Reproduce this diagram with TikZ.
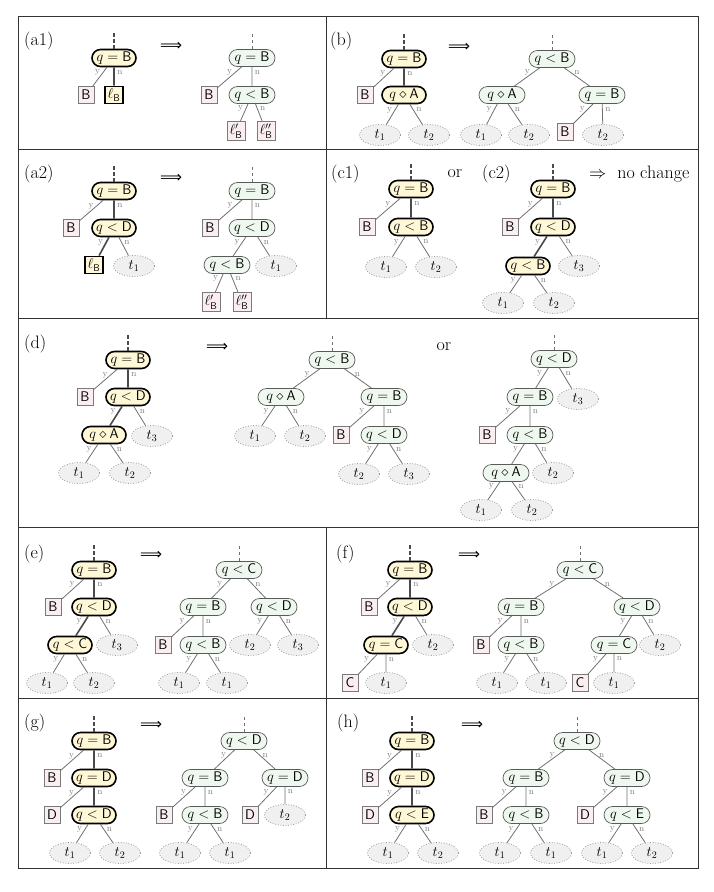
\documentclass[tikz,border=0pt]{standalone}
\usepackage{amsmath}
\usepackage{fontspec}
\newfontfamily\arrfont{DejaVu Sans}
\usetikzlibrary{shapes.misc,shapes.geometric}
\definecolor{oldfill}{HTML}{FFF8D6}
\definecolor{newfill}{HTML}{EFF8EE}
\definecolor{newdraw}{HTML}{5A5A5A}
\definecolor{leaffill}{HTML}{FBEEF0}
\definecolor{leafdraw}{HTML}{7A7A7A}
\definecolor{subfill}{HTML}{F0F0F0}
\definecolor{subdraw}{HTML}{9A9A9A}
\definecolor{edgegray}{HTML}{707070}
\definecolor{thickgray}{HTML}{4A4A4A}
\definecolor{lblgray}{HTML}{808080}
\definecolor{framecol}{HTML}{333333}
\newcommand\nodefont{\fontsize{14}{16}\selectfont}
\newcommand\lblfont{\fontsize{9}{10}\selectfont}
\newcommand\labfont{\fontsize{18}{21}\selectfont}
\newcommand\bigarrow{\resizebox{22pt}{!}{\arrfont ⟹}}
\newcommand\edgY[2]{\draw[edg] (#1) -- node[yl]{y} (#2);}
\newcommand\edgN[2]{\draw[edg] (#1) -- node[nl]{n} (#2);}
\newcommand\thkY[2]{\draw[tedg] (#1) -- node[yl]{y} (#2);}
\newcommand\thkN[2]{\draw[tedg] (#1) -- node[nl]{n} (#2);}
\newcommand\ostubat[1]{\draw[ostub] (#1.north) -- ++(0,-17);}
\newcommand\nstubat[1]{\draw[nstub] (#1.north) -- ++(0,-17);}
\tikzset{
  onode/.style={rounded rectangle, draw=black, line width=1.6pt, fill=oldfill, minimum width=46pt, minimum height=17pt, inner sep=1pt, font=\nodefont},
  nnode/.style={rounded rectangle, draw=newdraw, line width=0.7pt, fill=newfill, minimum width=48pt, minimum height=17pt, inner sep=1pt, font=\nodefont},
  lf/.style={rectangle, draw=leafdraw, line width=0.7pt, fill=leaffill, minimum width=16pt, minimum height=17pt, inner sep=2.5pt, font=\nodefont},
  olf/.style={lf, draw=black, line width=1.6pt, fill=oldfill},
  subt/.style={ellipse, draw=subdraw, dash pattern=on 0.8pt off 1.8pt, line width=0.8pt, fill=subfill, minimum width=41pt, minimum height=21pt, inner sep=0pt, font=\nodefont},
  edg/.style={draw=edgegray, line width=0.8pt},
  tedg/.style={draw=thickgray, line width=1.6pt},
  yl/.style={pos=0.28, left, inner sep=2.5pt, font=\lblfont, text=lblgray},
  nl/.style={pos=0.28, right, inner sep=2.5pt, font=\lblfont, text=lblgray},
  ostub/.style={draw=thickgray, line width=1.6pt, dash pattern=on 3.5pt off 2.5pt},
  nstub/.style={draw=edgegray, line width=0.7pt, dash pattern=on 3.5pt off 2.5pt},
  panel/.style={font=\labfont, inner sep=0pt, anchor=west},
  arr/.style={inner sep=0pt, text=black},
  frame/.style={draw=framecol, line width=1pt},
}
\begin{document}
\begin{tikzpicture}[x=1pt,y=-1pt]
\useasboundingbox (0,0) rectangle (713,892);
% frame
\draw[frame] (18,16) rectangle (698,868);
\draw[frame] (18,149) -- (698,149);
\draw[frame] (18,318) -- (698,318);
\draw[frame] (18,527) -- (698,527);
\draw[frame] (18,698) -- (698,698);
\draw[frame] (326,16) -- (326,318);
\draw[frame] (326,527) -- (326,868);

% ---------- (a1)
\node[panel] (la1) at (24,41.5) {(a1)};
\node[onode] (a1r) at (114,58) {$q=\textsf{B}$};
\node[lf] (a1B) at (86,95) {\textsf{B}};
\node[olf] (a1l) at (114,95) {$\ell_{\textsf{B}}$};
\ostubat{a1r}
\edgY{a1r}{a1B}
\thkN{a1r}{a1l}
\node[arr] (a1arr) at (171,46) {\bigarrow};
\node[nnode] (a1R) at (252,58) {$q=\textsf{B}$};
\node[lf] (a1RB) at (209,95) {\textsf{B}};
\node[nnode] (a1Rq) at (252,95) {$q<\textsf{B}$};
\node[lf] (a1l1) at (236,131) {$\ell'_{\textsf{B}}$};
\node[lf] (a1l2) at (266,131) {$\ell''_{\textsf{B}}$};
\nstubat{a1R}
\edgY{a1R}{a1RB}
\edgN{a1R}{a1Rq}
\edgY{a1Rq}{a1l1}
\edgN{a1Rq}{a1l2}

% ---------- (a2)
\node[panel] (la2) at (24,174) {(a2)};
\node[onode] (a2r) at (114,191) {$q=\textsf{B}$};
\node[lf] (a2B) at (71,228) {\textsf{B}};
\node[onode] (a2D) at (114,228) {$q<\textsf{D}$};
\node[olf] (a2l) at (94,265) {$\ell_{\textsf{B}}$};
\node[subt] (a2t1) at (134,266) {$t_1$};
\ostubat{a2r}
\edgY{a2r}{a2B}
\thkN{a2r}{a2D}
\thkY{a2D}{a2l}
\edgN{a2D}{a2t1}
\node[arr] (a2arr) at (171,178) {\bigarrow};
\node[nnode] (a2R) at (252,191) {$q=\textsf{B}$};
\node[lf] (a2RB) at (210,228) {\textsf{B}};
\node[nnode] (a2RD) at (252,228) {$q<\textsf{D}$};
\node[nnode] (a2Rq) at (227,265) {$q<\textsf{B}$};
\node[subt] (a2Rt) at (276,266) {$t_1$};
\node[lf] (a2l1) at (211,302) {$\ell'_{\textsf{B}}$};
\node[lf] (a2l2) at (242,302) {$\ell''_{\textsf{B}}$};
\nstubat{a2R}
\edgY{a2R}{a2RB}
\edgN{a2R}{a2RD}
\edgY{a2RD}{a2Rq}
\edgN{a2RD}{a2Rt}
\edgY{a2Rq}{a2l1}
\edgN{a2Rq}{a2l2}

% ---------- (b)
\node[panel] (lb) at (330,41.5) {(b)};
\node[onode] (br) at (404,59) {$q=\textsf{B}$};
\node[lf] (bB) at (365,95) {\textsf{B}};
\node[onode] (bA) at (404,95) {$q\diamond\textsf{A}$};
\node[subt] (bt1) at (380,135) {$t_1$};
\node[subt] (bt2) at (429,135) {$t_2$};
\ostubat{br}
\edgY{br}{bB}
\thkN{br}{bA}
\edgY{bA}{bt1}
\edgN{bA}{bt2}
\node[arr] (barr) at (459,47) {\bigarrow};
\node[nnode] (bR) at (552,59) {$q<\textsf{B}$};
\node[nnode] (bRA) at (502,95) {$q\diamond\textsf{A}$};
\node[nnode] (bRq) at (602,95) {$q=\textsf{B}$};
\node[subt] (bRt1) at (481,135) {$t_1$};
\node[subt] (bRt2) at (529,135) {$t_2$};
\node[lf] (bRB) at (565,132) {\textsf{B}};
\node[subt] (bRt3) at (603,135) {$t_2$};
\nstubat{bR}
\edgY{bR}{bRA}
\edgN{bR}{bRq}
\edgY{bRA}{bRt1}
\edgN{bRA}{bRt2}
\edgY{bRq}{bRB}
\edgN{bRq}{bRt3}

% ---------- (c1) (c2)
\node[panel] (lc1) at (331,174) {(c1)};
\node[onode] (c1r) at (411,189) {$q=\textsf{B}$};
\node[lf] (c1B) at (367,227) {\textsf{B}};
\node[onode] (c1q) at (411,227) {$q<\textsf{B}$};
\node[subt] (c1t1) at (386,267) {$t_1$};
\node[subt] (c1t2) at (436,267) {$t_2$};
\ostubat{c1r}
\edgY{c1r}{c1B}
\thkN{c1r}{c1q}
\edgY{c1q}{c1t1}
\edgN{c1q}{c1t2}
\node[panel, anchor=center] (lor1) at (455,174) {or};
\node[panel] (lc2) at (482,174) {(c2)};
\node[onode] (c2r) at (553,189) {$q=\textsf{B}$};
\node[lf] (c2B) at (510,227) {\textsf{B}};
\node[onode] (c2D) at (553,227) {$q<\textsf{D}$};
\node[onode] (c2q) at (528,266) {$q<\textsf{B}$};
\node[subt] (c2t3) at (579,266) {$t_3$};
\node[subt] (c2t1) at (503,303) {$t_1$};
\node[subt] (c2t2) at (554,303) {$t_2$};
\ostubat{c2r}
\edgY{c2r}{c2B}
\thkN{c2r}{c2D}
\thkY{c2D}{c2q}
\edgN{c2D}{c2t3}
\edgY{c2q}{c2t1}
\edgN{c2q}{c2t2}
\node[panel] (lnc) at (589,174) {$\Rightarrow$\ \ no change};

% ---------- (d)
\node[panel] (ld) at (24,344) {(d)};
\node[onode] (dr) at (128,360) {$q=\textsf{B}$};
\node[lf] (dB) at (85,397) {\textsf{B}};
\node[onode] (dD) at (128,397) {$q<\textsf{D}$};
\node[onode] (dA) at (104,435) {$q\diamond\textsf{A}$};
\node[subt] (dt3) at (152,436) {$t_3$};
\node[subt] (dt1) at (79,473) {$t_1$};
\node[subt] (dt2) at (130,473) {$t_2$};
\ostubat{dr}
\edgY{dr}{dB}
\thkN{dr}{dD}
\thkY{dD}{dA}
\edgN{dD}{dt3}
\edgY{dA}{dt1}
\edgN{dA}{dt2}
\node[arr] (darr) at (217,347) {\bigarrow};
\node[nnode] (dR) at (332,360) {$q<\textsf{B}$};
\node[nnode] (dRA) at (281,397) {$q\diamond\textsf{A}$};
\node[nnode] (dRq) at (384,397) {$q=\textsf{B}$};
\node[subt] (dRt1) at (255,436) {$t_1$};
\node[subt] (dRt2) at (305,436) {$t_2$};
\node[lf] (dRB) at (341,435) {\textsf{B}};
\node[nnode] (dRD) at (384,435) {$q<\textsf{D}$};
\node[subt] (dRt2b) at (359,474) {$t_2$};
\node[subt] (dRt3) at (409,474) {$t_3$};
\nstubat{dR}
\edgY{dR}{dRA}
\edgN{dR}{dRq}
\edgY{dRA}{dRt1}
\edgN{dRA}{dRt2}
\edgY{dRq}{dRB}
\edgN{dRq}{dRD}
\edgY{dRD}{dRt2b}
\edgN{dRD}{dRt3}
\node[panel, anchor=center] (lor2) at (444,347) {or};
\node[nnode] (dS) at (554,359) {$q<\textsf{D}$};
\node[nnode] (dSq) at (530,397) {$q=\textsf{B}$};
\node[subt] (dSt3) at (578,399) {$t_3$};
\node[lf] (dSB) at (487,435) {\textsf{B}};
\node[nnode] (dSb) at (530,435) {$q<\textsf{B}$};
\node[nnode] (dSA) at (506,473) {$q\diamond\textsf{A}$};
\node[subt] (dSt2) at (553,473) {$t_2$};
\node[subt] (dSt1) at (481,510) {$t_1$};
\node[subt] (dSt2b) at (532,510) {$t_2$};
\nstubat{dS}
\edgY{dS}{dSq}
\edgN{dS}{dSt3}
\edgY{dSq}{dSB}
\edgN{dSq}{dSb}
\edgY{dSb}{dSA}
\edgN{dSb}{dSt2}
\edgY{dSA}{dSt1}
\edgN{dSA}{dSt2b}

% ---------- (e)
\node[panel] (le) at (24,554) {(e)};
\node[onode] (er) at (94,570) {$q=\textsf{B}$};
\node[lf] (eB) at (53,607) {\textsf{B}};
\node[onode] (eD) at (94,607) {$q<\textsf{D}$};
\node[onode] (eC) at (70,645) {$q<\textsf{C}$};
\node[subt] (et3) at (117,645) {$t_3$};
\node[subt] (et1) at (47,683) {$t_1$};
\node[subt] (et2) at (94,683) {$t_2$};
\ostubat{er}
\edgY{er}{eB}
\thkN{er}{eD}
\thkY{eD}{eC}
\edgN{eD}{et3}
\edgY{eC}{et1}
\edgN{eC}{et2}
\node[arr] (earr) at (151,555) {\bigarrow};
\node[nnode] (eR) at (239,570) {$q<\textsf{C}$};
\node[nnode] (eRq) at (203,607) {$q=\textsf{B}$};
\node[nnode] (eRD) at (274,607) {$q<\textsf{D}$};
\node[lf] (eRB) at (163,645) {\textsf{B}};
\node[nnode] (eRb) at (203,645) {$q<\textsf{B}$};
\node[subt] (eRt2) at (250,645) {$t_2$};
\node[subt] (eRt3) at (298,645) {$t_3$};
\node[subt] (eRt1) at (179,683) {$t_1$};
\node[subt] (eRt1b) at (227,683) {$t_1$};
\nstubat{eR}
\edgY{eR}{eRq}
\edgN{eR}{eRD}
\edgY{eRq}{eRB}
\edgN{eRq}{eRb}
\edgY{eRD}{eRt2}
\edgN{eRD}{eRt3}
\edgY{eRb}{eRt1}
\edgN{eRb}{eRt1b}

% ---------- (f)
\node[panel] (lfp) at (336,554) {(f)};
\node[onode] (fr) at (410,570) {$q=\textsf{B}$};
\node[lf] (fB) at (369,607) {\textsf{B}};
\node[onode] (fD) at (410,607) {$q<\textsf{D}$};
\node[onode] (fC) at (386,645) {$q=\textsf{C}$};
\node[subt] (ft2) at (433,645) {$t_2$};
\node[lf] (fCl) at (350,683) {\textsf{C}};
\node[subt] (ft1) at (386,683) {$t_1$};
\ostubat{fr}
\edgY{fr}{fB}
\thkN{fr}{fD}
\thkY{fD}{fC}
\edgN{fD}{ft2}
\edgY{fC}{fCl}
\edgN{fC}{ft1}
\node[arr] (farr) at (469,555) {\bigarrow};
\node[nnode] (fR) at (580,570) {$q<\textsf{C}$};
\node[nnode] (fRq) at (521,607) {$q=\textsf{B}$};
\node[nnode] (fRD) at (637,607) {$q<\textsf{D}$};
\node[lf] (fRB) at (481,645) {\textsf{B}};
\node[nnode] (fRb) at (521,645) {$q<\textsf{B}$};
\node[nnode] (fRC) at (614,645) {$q=\textsf{C}$};
\node[subt] (fRt2) at (660,645) {$t_2$};
\node[subt] (fRt1) at (497,683) {$t_1$};
\node[subt] (fRt1b) at (546,683) {$t_1$};
\node[lf] (fRCl) at (580,683) {\textsf{C}};
\node[subt] (fRt1c) at (614,683) {$t_1$};
\nstubat{fR}
\edgY{fR}{fRq}
\edgN{fR}{fRD}
\edgY{fRq}{fRB}
\edgN{fRq}{fRb}
\edgY{fRD}{fRC}
\edgN{fRD}{fRt2}
\edgY{fRb}{fRt1}
\edgN{fRb}{fRt1b}
\edgY{fRC}{fRCl}
\edgN{fRC}{fRt1c}

% ---------- (g)
\node[panel] (lg) at (24,723) {(g)};
\node[onode] (gr) at (94,741) {$q=\textsf{B}$};
\node[lf] (gB) at (52,778) {\textsf{B}};
\node[onode] (gD) at (94,778) {$q=\textsf{D}$};
\node[lf] (gDl) at (52,815) {\textsf{D}};
\node[onode] (gq) at (94,815) {$q<\textsf{D}$};
\node[subt] (gt1) at (70,853) {$t_1$};
\node[subt] (gt2) at (120,853) {$t_2$};
\ostubat{gr}
\edgY{gr}{gB}
\thkN{gr}{gD}
\edgY{gD}{gDl}
\thkN{gD}{gq}
\edgY{gq}{gt1}
\edgN{gq}{gt2}
\node[arr] (garr) at (151,725) {\bigarrow};
\node[nnode] (gR) at (244,741) {$q<\textsf{D}$};
\node[nnode] (gRq) at (205,778) {$q=\textsf{B}$};
\node[nnode] (gRD) at (285,778) {$q=\textsf{D}$};
\node[lf] (gRB) at (164,815) {\textsf{B}};
\node[nnode] (gRb) at (205,815) {$q<\textsf{B}$};
\node[lf] (gRDl) at (250,815) {\textsf{D}};
\node[subt] (gRt2) at (285,815) {$t_2$};
\node[subt] (gRt1) at (180,853) {$t_1$};
\node[subt] (gRt1b) at (230,853) {$t_1$};
\nstubat{gR}
\edgY{gR}{gRq}
\edgN{gR}{gRD}
\edgY{gRq}{gRB}
\edgN{gRq}{gRb}
\edgY{gRD}{gRDl}
\edgN{gRD}{gRt2}
\edgY{gRb}{gRt1}
\edgN{gRb}{gRt1b}

% ---------- (h)
\node[panel] (lh) at (337,723) {(h)};
\node[onode] (hr) at (412,741) {$q=\textsf{B}$};
\node[lf] (hB) at (370,778) {\textsf{B}};
\node[onode] (hD) at (412,778) {$q=\textsf{D}$};
\node[lf] (hDl) at (370,815) {\textsf{D}};
\node[onode] (hq) at (412,815) {$q<\textsf{E}$};
\node[subt] (ht1) at (388,853) {$t_1$};
\node[subt] (ht2) at (438,853) {$t_2$};
\ostubat{hr}
\edgY{hr}{hB}
\thkN{hr}{hD}
\edgY{hD}{hDl}
\thkN{hD}{hq}
\edgY{hq}{ht1}
\edgN{hq}{ht2}
\node[arr] (harr) at (472,725) {\bigarrow};
\node[nnode] (hR) at (577,741) {$q<\textsf{D}$};
\node[nnode] (hRq) at (526,778) {$q=\textsf{B}$};
\node[nnode] (hRD) at (627,778) {$q=\textsf{D}$};
\node[lf] (hRB) at (484,815) {\textsf{B}};
\node[nnode] (hRb) at (526,815) {$q<\textsf{B}$};
\node[lf] (hRDl) at (585,815) {\textsf{D}};
\node[nnode] (hRe) at (627,815) {$q<\textsf{E}$};
\node[subt] (hRt1) at (500,853) {$t_1$};
\node[subt] (hRt1b) at (551,853) {$t_1$};
\node[subt] (hRt1c) at (602,853) {$t_1$};
\node[subt] (hRt2) at (652,853) {$t_2$};
\nstubat{hR}
\edgY{hR}{hRq}
\edgN{hR}{hRD}
\edgY{hRq}{hRB}
\edgN{hRq}{hRb}
\edgY{hRD}{hRDl}
\edgN{hRD}{hRe}
\edgY{hRb}{hRt1}
\edgN{hRb}{hRt1b}
\edgY{hRe}{hRt1c}
\edgN{hRe}{hRt2}
\end{tikzpicture}
\end{document}
